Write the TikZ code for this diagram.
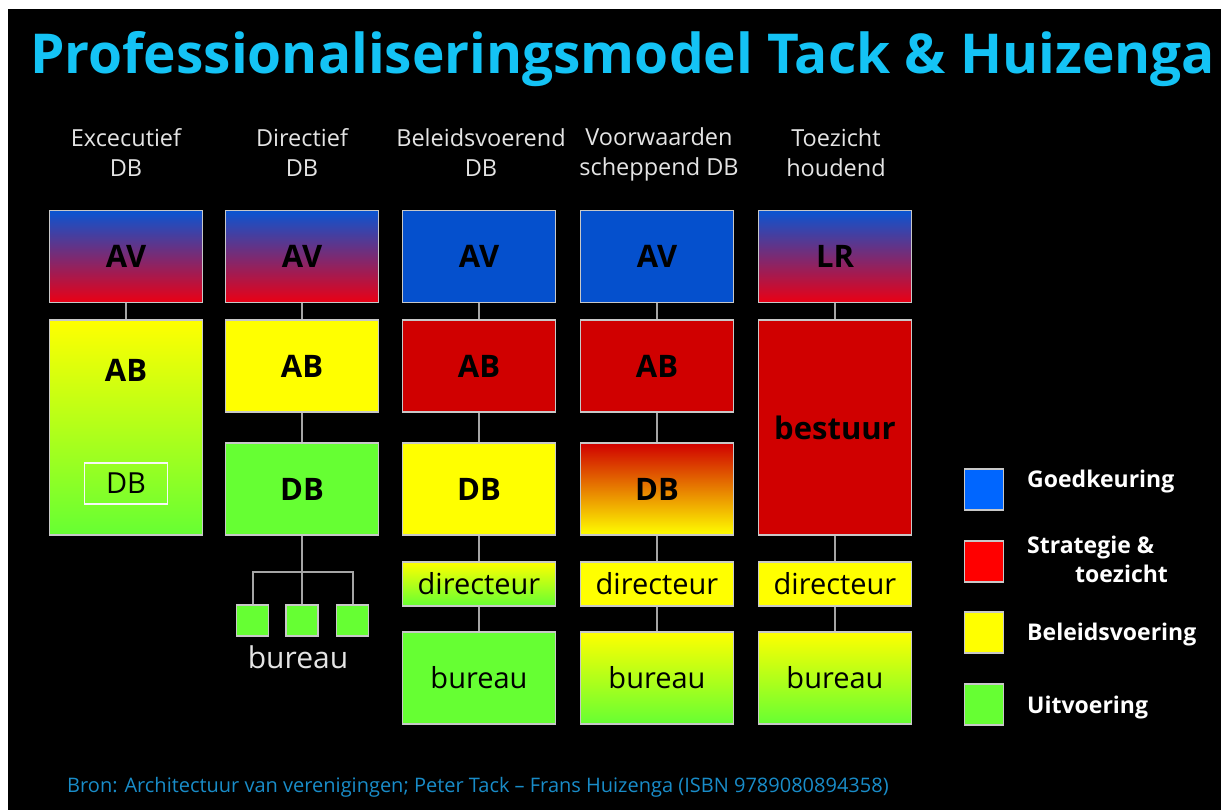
\documentclass[tikz,border=0pt]{standalone}
\usepackage{fontspec}
\setmainfont{Open Sans}
\usepackage{tikz}
\usetikzlibrary{positioning}
\definecolor{TitleCyan}{RGB}{20,195,245}
\definecolor{SourceBlue}{RGB}{25,140,200}
\definecolor{HeadGray}{RGB}{228,228,228}
\definecolor{EdgeGray}{RGB}{200,200,200}
\definecolor{LinkGray}{RGB}{165,165,165}
\definecolor{AVBlue}{RGB}{5,80,205}
\definecolor{GradBlue}{RGB}{10,85,210}
\definecolor{GradRed}{RGB}{235,0,20}
\definecolor{ABRed}{RGB}{208,0,0}
\definecolor{PolYellow}{RGB}{255,255,0}
\definecolor{ExeGreen}{RGB}{102,255,51}
\definecolor{KeyBlue}{RGB}{0,102,255}
\definecolor{KeyRed}{RGB}{255,0,0}
\newcommand{\boxfont}{\fontsize{31}{36}\selectfont\bfseries}
\newcommand{\plainfont}{\fontsize{29}{34}\selectfont}
\newcommand{\headfont}{\fontsize{23.5}{30}\selectfont}
\newcommand{\keyfont}{\fontsize{23}{29}\selectfont\bfseries}
\tikzset{
  blk/.style={draw=EdgeGray,line width=1.3pt,inner sep=0pt,minimum width=153pt,text=black},
  rowbox/.style={blk,minimum height=92pt,font=\boxfont},
  halfbox/.style={blk,minimum height=44pt,font=\plainfont},
  tallbox/.style={blk,minimum height=215pt,font=\boxfont},
  plainrow/.style={rowbox,font=\plainfont},
  board grad/.style={top color=GradBlue,bottom color=GradRed},
  work grad/.style={top color=PolYellow,bottom color=ExeGreen},
  fire grad/.style={top color=ABRed,bottom color=PolYellow},
  head/.style={text=HeadGray,align=center,font=\headfont,inner sep=0pt},
  link/.style={draw=LinkGray,line width=2pt},
  keybox/.style={draw=EdgeGray,line width=1.3pt,minimum width=39pt,minimum height=41pt,inner sep=0pt},
  keytext/.style={text=white,anchor=west,font=\keyfont,inner sep=0pt}
}
\begin{document}
\begin{tikzpicture}[x=1pt,y=-1pt]
  \useasboundingbox (0,0) rectangle (1221,810);
  \fill[white] (0,0) rectangle (1221,810);
  \fill[black] (8,9) rectangle (1221,810);

  % Title and source
  \node[anchor=west,text=TitleCyan,inner sep=0pt,font=\fontsize{55}{66}\selectfont\bfseries]
    (title) at (30,59) {Professionaliseringsmodel Tack \& Huizenga};
  \node[anchor=west,text=SourceBlue,inner sep=0pt,font=\fontsize{20}{24}\selectfont]
    (source) at (67,787) {Bron: Architectuur van verenigingen; Peter Tack – Frans Huizenga (ISBN 9789080894358)};

  % Column headers
  \node[head] (H1) at (126,153) {Excecutief\\DB};
  \node[head] (H2) at (302,153) {Directief\\DB};
  \node[head] (H3) at (481,153) {Beleidsvoerend\\DB};
  \node[head] (H4) at (659,154) {Voorwaarden\\scheppend DB};
  \node[head] (H5) at (836,153) {Toezicht\\houdend};

  % Executief DB
  \node[rowbox,board grad] (AV1) at (126,256.5) {AV};
  \node[tallbox,work grad] (AB1) at (126,427.5) {};
  \node[font=\boxfont,inner sep=0pt] (AB1t) at (126,370) {AB};
  \node[draw=white!85!EdgeGray,line width=1.5pt,minimum width=83pt,minimum height=41pt,inner sep=0pt,font=\plainfont] (DB1) at (126,483.5) {DB};
  \draw[link] (AV1) -- (AB1);

  % Directief DB
  \node[rowbox,board grad] (AV2) at (302,256.5) {AV};
  \node[rowbox,fill=PolYellow] (AB2) at (302,366) {AB};
  \node[rowbox,fill=ExeGreen] (DB2) at (302,489) {DB};
  \begin{scope}[every node/.style={blk,fill=ExeGreen,minimum width=32pt,minimum height=31pt}]
    \node (BU2a) at (252.5,620.5) {};
    \node (BU2b) at (302,620.5) {};
    \node (BU2c) at (352.5,620.5) {};
  \end{scope}
  \node[text=HeadGray,font=\fontsize{30}{34}\selectfont,inner sep=0pt] (BU2t) at (298,657) {bureau};
  \coordinate (fork) at (302,572);
  \draw[link] (AV2) -- (AB2);
  \draw[link] (AB2) -- (DB2);
  \draw[link] (DB2) -- (fork);
  \draw[link] (BU2a.north) |- (fork) -| (BU2c.north);
  \draw[link] (fork) -- (BU2b);

  % Beleidsvoerend DB
  \node[rowbox,fill=AVBlue] (AV3) at (479,256.5) {AV};
  \node[rowbox,fill=ABRed] (AB3) at (479,366) {AB};
  \node[rowbox,fill=PolYellow] (DB3) at (479,489) {DB};
  \node[halfbox,work grad] (DI3) at (479,584) {directeur};
  \node[plainrow,fill=ExeGreen] (BU3) at (479,678) {bureau};
  \draw[link] (AV3) -- (AB3);
  \draw[link] (AB3) -- (DB3);
  \draw[link] (DB3) -- (DI3);
  \draw[link] (DI3) -- (BU3);

  % Voorwaarden scheppend DB
  \node[rowbox,fill=AVBlue] (AV4) at (657,256.5) {AV};
  \node[rowbox,fill=ABRed] (AB4) at (657,366) {AB};
  \node[rowbox,fire grad] (DB4) at (657,489) {DB};
  \node[halfbox,fill=PolYellow] (DI4) at (657,584) {directeur};
  \node[plainrow,work grad] (BU4) at (657,678) {bureau};
  \draw[link] (AV4) -- (AB4);
  \draw[link] (AB4) -- (DB4);
  \draw[link] (DB4) -- (DI4);
  \draw[link] (DI4) -- (BU4);

  % Toezicht houdend
  \node[rowbox,board grad] (LR5) at (835,256.5) {LR};
  \node[tallbox,fill=ABRed] (BE5) at (835,427.5) {bestuur};
  \node[halfbox,fill=PolYellow] (DI5) at (835,584) {directeur};
  \node[plainrow,work grad] (BU5) at (835,678) {bureau};
  \draw[link] (LR5) -- (BE5);
  \draw[link] (BE5) -- (DI5);
  \draw[link] (DI5) -- (BU5);

  % Legend
  \node[keybox,fill=KeyBlue] (K1) at (984,489.5) {};
  \node[keybox,fill=KeyRed] (K2) at (984,561.5) {};
  \node[keybox,fill=PolYellow] (K3) at (984,632.5) {};
  \node[keybox,fill=ExeGreen] (K4) at (984,704.5) {};
  \node[keytext] (K1t) at (1027,482) {Goedkeuring};
  \node[keytext,align=left] (K2t) at (1027,559) {Strategie \&\\\hspace*{48pt}toezicht};
  \node[keytext] (K3t) at (1027,635) {Beleidsvoering};
  \node[keytext] (K4t) at (1027,708) {Uitvoering};
\end{tikzpicture}
\end{document}
